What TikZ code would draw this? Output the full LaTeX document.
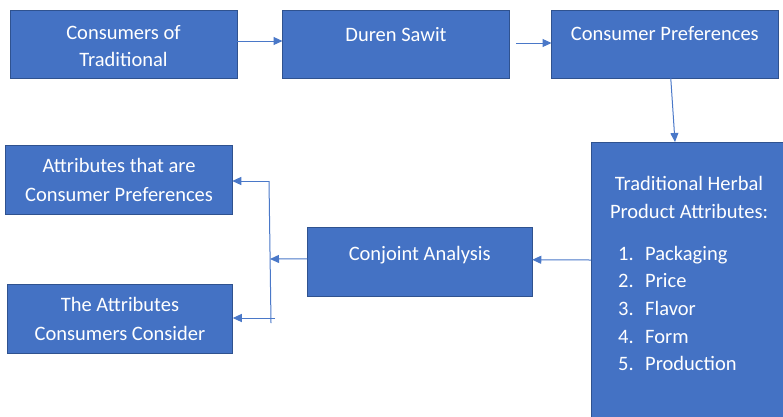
\documentclass[tikz,border=0pt]{standalone}
\usepackage{fontspec}
\setmainfont{Carlito}
\usetikzlibrary{arrows.meta}
\definecolor{boxfill}{HTML}{4472C4}
\definecolor{boxline}{HTML}{2F528F}
\definecolor{arrowc}{HTML}{4A78C8}
\tikzset{
  box/.style={draw=boxline, fill=boxfill, line width=1pt, inner sep=0pt, outer sep=0pt},
  txt/.style={text=white, font=\fontsize{20.5}{24}\selectfont, inner sep=0pt, anchor=base},
  ltxt/.style={txt, anchor=base west},
  conn/.style={draw=arrowc, line width=1pt},
  arr/.style={conn, -{Triangle[length=9pt,width=8pt]}}
}
\begin{document}
\begin{tikzpicture}[x=1pt,y=-1pt]
\useasboundingbox (0,0) rectangle (783,416);
\clip (0,0) rectangle (783,416);
% boxes
\node[box, minimum width=227pt, minimum height=68pt] (b1) at (123.5,44) {};
\node[box, minimum width=227pt, minimum height=68pt] (b2) at (396,44) {};
\node[box, minimum width=226.5pt, minimum height=68pt] (b3) at (664.75,44) {};
\node[box, minimum width=200pt, minimum height=290pt] (b4) at (691,287) {};
\node[box, minimum width=225pt, minimum height=68.5pt] (b5) at (419.75,261.75) {};
\node[box, minimum width=226.5pt, minimum height=68.5pt] (b6) at (119,180) {};
\node[box, minimum width=225.5pt, minimum height=68.5pt] (b7) at (120,319) {};
% texts
\node[txt] (t1a) at (123.5,39.5) {Consumers of};
\node[txt] (t1b) at (123.5,66.8) {Traditional};
\node[txt] (t2) at (396,41.7) {Duren Sawit};
\node[txt] (t3) at (664.75,40.7) {Consumer Preferences};
\node[txt] (t4a) at (689,190) {Traditional Herbal};
\node[txt] (t4b) at (689,218.3) {Product Attributes:};
\node[ltxt] (l1) at (618,260) {\makebox[27pt][l]{1.}Packaging};
\node[ltxt] (l2) at (618,287.7) {\makebox[27pt][l]{2.}Price};
\node[ltxt] (l3) at (618,315.4) {\makebox[27pt][l]{3.}Flavor};
\node[ltxt] (l4) at (618,343.1) {\makebox[27pt][l]{4.}Form};
\node[ltxt] (l5) at (618,370.8) {\makebox[27pt][l]{5.}Production};
\node[txt] (t5) at (419.75,260.7) {Conjoint Analysis};
\node[txt] (t6a) at (119,172.3) {Attributes that are};
\node[txt] (t6b) at (119,201.7) {Consumer Preferences};
\node[txt] (t7a) at (120,311.7) {The Attributes};
\node[txt] (t7b) at (120,340) {Consumers Consider};
% junction coordinates
\coordinate (s2) at (516,43);
\coordinate (jm) at (270,259);
\coordinate (jt) at (269,181);
\coordinate (jb) at (271,323);
\coordinate (jl) at (275,318);
% connectors
\draw[arr] ([yshift=3pt]b1.east) -- ([yshift=3pt]b2.west);
\draw[arr] (s2) -- ([yshift=1pt]b3.west);
\draw[arr] ([xshift=6pt]b3.south) -- ([xshift=-16pt]b4.north);
\draw[arr] ([yshift=27pt]b4.west) -- ([yshift=2pt]b5.east);
\draw[arr] ([yshift=3pt]b5.west) -- (jm);
\draw[conn] (jt) -- (jb);
\draw[arr] (jt) -- ([yshift=-1pt]b6.east);
\draw[arr] (jl) -- ([yshift=1pt]b7.east);
\end{tikzpicture}
\end{document}
